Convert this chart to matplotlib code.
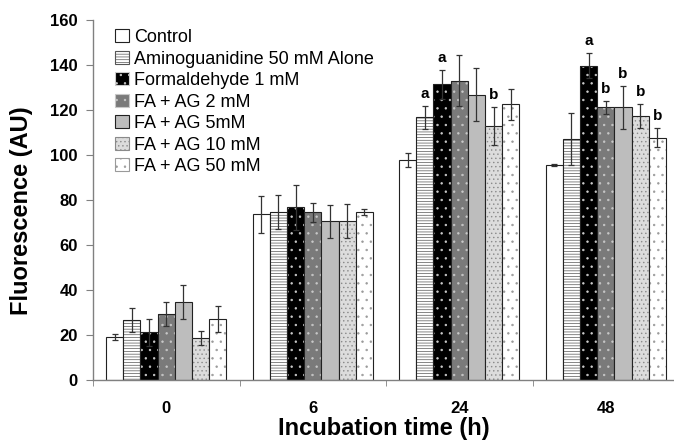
import matplotlib
matplotlib.use('Agg')
import matplotlib.pyplot as plt
import numpy as np

plt.rcParams['font.family'] = ['Liberation Sans', 'DejaVu Sans']
plt.rcParams['hatch.linewidth'] = 0.5

# --- data ---
times = ['0', '6', '24', '48']
treatments = ['Control', 'Aminoguanidine 50 mM Alone', 'Formaldehyde 1 mM',
              'FA + AG 2 mM', 'FA + AG 5mM', 'FA + AG 10 mM', 'FA + AG 50 mM']

# rows = treatments, columns = time points
means = [
    [19.3, 73.6, 97.8, 95.6],
    [26.7, 74.8, 116.7, 107.1],
    [21.2, 76.7, 131.4, 139.7],
    [29.3, 74.5, 133.0, 121.2],
    [34.8, 70.5, 126.7, 121.2],
    [18.7, 70.5, 112.9, 117.3],
    [27.1, 74.7, 122.5, 107.7],
]
errors = [
    [1.3, 8.1, 3.2, 0.5],
    [5.3, 7.6, 5.2, 11.4],
    [6.0, 10.0, 6.4, 5.5],
    [5.2, 4.3, 11.4, 3.0],
    [7.5, 7.3, 11.8, 9.5],
    [3.0, 7.6, 8.6, 5.4],
    [5.7, 1.3, 6.9, 4.2],
]
# significance letters: (treatment index, time index, letter)
letters = [(1, 2, 'a'), (2, 2, 'a'), (5, 2, 'b'),
           (2, 3, 'a'), (3, 3, 'b'), (4, 3, 'b'), (5, 3, 'b'), (6, 3, 'b')]

# face colour, hatch, hatch colour per treatment
styles = [
    ('white', None, None),
    ('white', '------', '#555555'),
    ('black', '..', '#cccccc'),
    ('#7a7a7a', '..', '#c8c8c8'),
    ('#bdbdbd', None, None),
    ('#dcdcdc', '....', '#8a8a8a'),
    ('white', '..', '#9a9a9a'),
]

fig = plt.figure(figsize=(6.74, 4.43), dpi=100)
ax = fig.add_axes([93 / 674, 63 / 443, 586 / 674, 360 / 443])

x = np.arange(len(times)) + 0.5
w = 0.1174


def draw_bar(ax, xs, hs, style):
    face, hatch, hcol = style
    ax.bar(xs, hs, w, color=face, edgecolor='none', linewidth=0)
    if hatch:
        ax.bar(xs, hs, w, color='none', edgecolor=hcol, hatch=hatch, linewidth=0)
    ax.bar(xs, hs, w, color='none', edgecolor='#222222', linewidth=0.8)


for j in range(len(treatments)):
    xs = x + (j - 3) * w
    draw_bar(ax, xs, means[j], styles[j])
    ax.errorbar(xs, means[j], yerr=errors[j], fmt='none', ecolor='#333333',
                elinewidth=0.9, capsize=2.5, capthick=0.9)

for j, t, lab in letters:
    ax.text(x[t] + (j - 3) * w, means[j][t] + errors[j][t] + 2.2, lab,
            ha='center', va='bottom', fontsize=11, fontweight='bold')

# legend with matching swatches
handles = []
for j in range(len(treatments)):
    face, hatch, hcol = styles[j]
    handles.append(plt.Rectangle((0, 0), 1, 1, facecolor=face,
                                 edgecolor=hcol if hatch else '#222222',
                                 hatch=hatch, linewidth=0.8))
leg = fig.legend(handles, treatments, loc='upper left',
                 bbox_to_anchor=(115 / 674, 1 - 29 / 443), frameon=False,
                 fontsize=13, handlelength=0.75, handleheight=0.75,
                 handletextpad=0.3, labelspacing=0.25, borderpad=0,
                 borderaxespad=0)

ax.set_xlim(0, 4)
ax.set_ylim(0, 160)
ax.set_yticks(np.arange(0, 161, 20))
ax.set_xticks(x)
ax.set_xticklabels(times)
ax.set_xticks(np.arange(0, 5), minor=True)
ax.tick_params(axis='x', which='major', length=0, pad=15)
ax.tick_params(axis='x', which='minor', length=4, color='#808080')
ax.tick_params(axis='y', length=5, color='#808080', pad=6)
for lab in ax.get_xticklabels() + ax.get_yticklabels():
    lab.set_fontsize(12)
    lab.set_fontweight('bold')

for s in ['top', 'right']:
    ax.spines[s].set_visible(False)
for s in ['left', 'bottom']:
    ax.spines[s].set_color('#808080')
    ax.spines[s].set_linewidth(1)

ax.set_xlabel('Incubation time (h)', fontsize=17, fontweight='bold')
ax.xaxis.set_label_coords(0.497, -0.103)
ax.set_ylabel('Fluorescence (AU)', fontsize=17, fontweight='bold')
ax.yaxis.set_label_coords(-0.102, 0.47)

fig.savefig('out.png', dpi=100)
